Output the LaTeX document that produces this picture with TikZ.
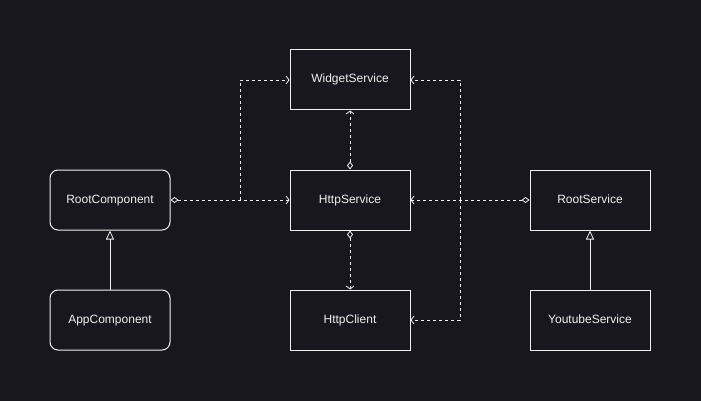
\documentclass[tikz,border=0pt]{standalone}
\usepackage{fontspec}
\setmainfont{Liberation Sans}
\usetikzlibrary{arrows.meta}
\definecolor{bg}{HTML}{18161E}
\definecolor{fg}{HTML}{F0F0F0}
\begin{document}
\begin{tikzpicture}[x=1pt,y=-1pt,
  box/.style={draw=fg, line width=1pt, fill=bg, minimum width=120pt, minimum height=60pt, inner sep=0pt, text=fg, font=\fontsize{12}{14}\selectfont, text height=8.7pt, text depth=2.7pt},
  rbox/.style={box, rounded corners=8pt},
  dep/.style={draw=fg, line width=0.8pt, dash pattern=on 3pt off 3pt,
    {Diamond[open, length=8pt, width=6pt, line width=0.8pt]}-{Straight Barb[length=3pt, width=8pt, line width=0.8pt]}},
  depn/.style={draw=fg, line width=0.8pt, dash pattern=on 3pt off 3pt,
    -{Straight Barb[length=3pt, width=8pt, line width=0.8pt]}},
  inh/.style={draw=fg, line width=0.8pt, -{Triangle[open, length=9pt, width=8pt, line width=0.8pt]}}
]
\fill[bg] (0,0) rectangle (701,401);
\useasboundingbox (0,0) rectangle (701,401);

\node[box]  (ws) at (350,80)  {WidgetService};
\node[box]  (hs) at (350,200) {HttpService};
\node[box]  (hc) at (350,320) {HttpClient};
\node[rbox] (rc) at (110,200) {RootComponent};
\node[rbox] (ac) at (110,320) {AppComponent};
\node[box]  (rs) at (590,200) {RootService};
\node[box]  (ys) at (590,320) {YoutubeService};

\coordinate (lj) at (240,200);
\coordinate (lt) at (240,80);
\coordinate (rj) at (460,200);
\coordinate (rt) at (460,80);
\coordinate (rb) at (460,320);

% RootComponent dependencies
\draw[dep] (rc.east) -- (hs.west);
\draw[depn] (lj) -- (lt) -- (ws.west);

% HttpService dependencies
\draw[dep] (hs.north) -- (ws.south);
\draw[dep] (hs.south) -- (hc.north);

% RootService dependencies
\draw[dep] (rs.west) -- (hs.east);
\draw[depn] (rj) -- (rt) -- (ws.east);
\draw[depn] (rj) -- (rb) -- (hc.east);

% inheritance
\draw[inh] (ac.north) -- (rc.south);
\draw[inh] (ys.north) -- (rs.south);
\end{tikzpicture}
\end{document}
